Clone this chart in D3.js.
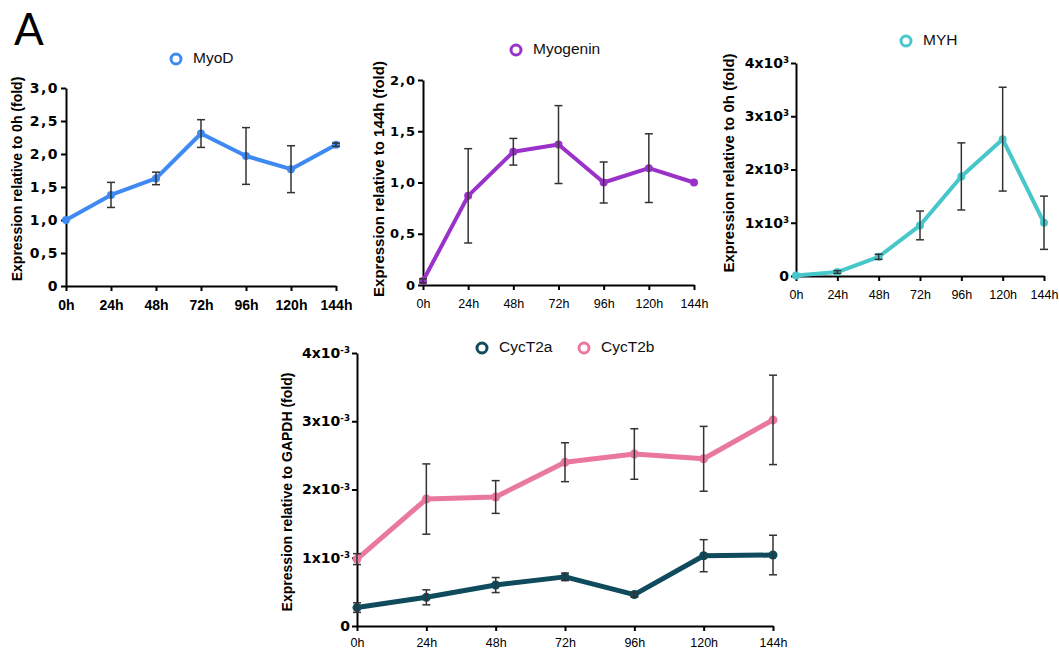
<!DOCTYPE html>
<html>
<head>
<meta charset="UTF-8">
<script src="https://d3js.org/d3.v7.min.js"></script>
<style>
    body { margin: 0; background: #fff; }
    svg { display: block; }
    .ylab { font-family: 'Liberation Sans', Arial, sans-serif; font-weight: bold; fill: #000; }
    .legend text { font-family: 'Liberation Sans', Arial, sans-serif; font-size: 15.5px; fill: #111; }
</style>
</head>
<body>
<script>
// time points shared by all panels
var timePoints = ["0h", "24h", "48h", "72h", "96h", "120h", "144h"];

// MyoD, fold vs 0h
var myodMean = [1.00, 1.38, 1.63, 2.31, 1.97, 1.77, 2.14];
var myodSd   = [0.00, 0.19, 0.095, 0.21, 0.43, 0.355, 0.025];
var myodTicks = [0, 0.5, 1, 1.5, 2, 2.5, 3];

// Myogenin, fold vs 144h
var myogeninMean = [0.04, 0.87, 1.30, 1.37, 1.00, 1.14, 1.00];
var myogeninSd   = [0.02, 0.46, 0.13, 0.38, 0.20, 0.335, 0.00];
var myogeninTicks = [0, 0.5, 1, 1.5, 2];

// MYH, fold vs 0h
var myhMean = [10, 75, 360, 950, 1870, 2570, 1000];
var myhSd   = [0, 25, 48, 270, 630, 975, 500];
var myhTicks = [0, 1000, 2000, 3000, 4000];

// CycT2a / CycT2b relative to GAPDH
var cycT2aMean = [0.27e-3, 0.42e-3, 0.60e-3, 0.72e-3, 0.46e-3, 1.03e-3, 1.04e-3];
var cycT2aSd   = [0.07e-3, 0.11e-3, 0.11e-3, 0.055e-3, 0.035e-3, 0.235e-3, 0.29e-3];
var cycT2bMean = [0.98e-3, 1.86e-3, 1.89e-3, 2.40e-3, 2.52e-3, 2.45e-3, 3.02e-3];
var cycT2bSd   = [0.08e-3, 0.515e-3, 0.24e-3, 0.285e-3, 0.37e-3, 0.475e-3, 0.655e-3];
var cycTicks = [0, 1e-3, 2e-3, 3e-3, 4e-3];

var svg = d3.select("body").append("svg")
    .attr("width", 1059)
    .attr("height", 652);

svg.append("text")
    .attr("x", 14).attr("y", 45)
    .style("font-family", "Lato, 'Open Sans', sans-serif")
    .style("font-size", "44px")
    .text("A");

function commaFmt(d) {
    return d === 0 ? ["0"] : [d3.format(".1f")(d).replace(".", ",")];
}

function drawPanel(o) {
    var x = d3.scalePoint().domain(timePoints).range([o.left, o.right]);
    var y = d3.scaleLinear().domain([o.ticks[0], o.ticks[o.ticks.length - 1]]).range([o.bottom, o.top]);
    var g = svg.append("g");

    // axes
    var xAxis = g.append("g")
        .attr("transform", "translate(0," + o.bottom + ")")
        .call(d3.axisBottom(x).tickSizeInner(5).tickSizeOuter(0).tickPadding(o.xPad));
    xAxis.selectAll("text")
        .style("font-family", "'Liberation Sans', Arial, sans-serif")
        .style("font-size", o.xFont)
        .style("font-weight", o.xBold ? "bold" : "normal")
        .attr("fill", "#000");

    var yAxis = g.append("g")
        .attr("transform", "translate(" + o.left + ",0)")
        .call(d3.axisLeft(y).tickValues(o.ticks).tickSizeInner(5).tickSizeOuter(0).tickPadding(2));
    yAxis.selectAll("text")
        .style("font-family", "'DejaVu Sans', sans-serif")
        .style("font-size", o.yFont)
        .style("font-weight", "bold")
        .style("letter-spacing", o.ySpacing || "0px")
        .attr("fill", "#000")
        .each(function (d) {
            var t = d3.select(this);
            var f = o.fmt(d);
            t.text(null);
            t.append("tspan").text(f[0]);
            if (f[1]) {
                t.append("tspan").attr("dy", "-0.55em").style("font-size", "0.62em").text(f[1]);
            }
        });

    [xAxis, yAxis].forEach(function (a) {
        a.selectAll("path, line").attr("stroke", "#000").attr("stroke-width", 2);
    });

    // y label
    g.append("text")
        .attr("class", "ylab")
        .attr("transform", "translate(" + o.yLabX + "," + o.yLabY + ") rotate(-90)")
        .attr("text-anchor", "middle")
        .attr("dominant-baseline", "middle")
        .style("font-size", o.yLabFont)
        .text(o.yLabel);

    // series
    o.series.forEach(function (s) {
        var pts = timePoints.map(function (t, i) { return { t: t, m: s.mean[i], sd: s.sd[i] }; });
        var line = d3.line().x(function (d) { return x(d.t); }).y(function (d) { return y(d.m); });

        g.append("path")
            .datum(pts)
            .attr("d", line)
            .attr("fill", "none")
            .attr("stroke", s.color)
            .attr("stroke-width", o.lineW)
            .attr("stroke-linejoin", "round");

        g.selectAll(null).data(pts).enter().append("circle")
            .attr("cx", function (d) { return x(d.t); })
            .attr("cy", function (d) { return y(d.m); })
            .attr("r", o.dotR)
            .attr("fill", s.color);

        var eb = g.selectAll(null).data(pts.filter(function (d) { return d.sd > 0; })).enter().append("g")
            .attr("stroke", "#333").attr("stroke-width", 1.5);
        eb.append("line")
            .attr("x1", function (d) { return x(d.t); }).attr("x2", function (d) { return x(d.t); })
            .attr("y1", function (d) { return y(d.m - d.sd); }).attr("y2", function (d) { return y(d.m + d.sd); });
        [-1, 1].forEach(function (k) {
            eb.append("line")
                .attr("x1", function (d) { return x(d.t) - 4; }).attr("x2", function (d) { return x(d.t) + 4; })
                .attr("y1", function (d) { return y(d.m + k * d.sd); }).attr("y2", function (d) { return y(d.m + k * d.sd); });
        });
    });

    // legend
    var lg = g.append("g").attr("class", "legend");
    o.series.forEach(function (s, i) {
        var lx = o.legX[i];
        lg.append("circle")
            .attr("cx", lx).attr("cy", o.legY).attr("r", 5)
            .attr("fill", "#fff").attr("stroke", s.color).attr("stroke-width", 3);
        lg.append("text")
            .attr("x", lx + 17).attr("y", o.legY)
            .attr("dominant-baseline", "middle")
            .text(s.name);
    });
}

drawPanel({
    left: 66, right: 336, top: 88, bottom: 286,
    ticks: myodTicks, fmt: commaFmt, yFont: "14px", ySpacing: "1.5px",
    xFont: "14px", xBold: true, xPad: 9,
    yLabel: "Expression relative to 0h (fold)", yLabX: 18, yLabY: 179, yLabFont: "14px",
    lineW: 4, dotR: 4, legX: [176], legY: 59,
    series: [{ name: "MyoD", mean: myodMean, sd: myodSd, color: "#3f8af2" }]
});

drawPanel({
    left: 423, right: 694, top: 80, bottom: 285,
    ticks: myogeninTicks, fmt: commaFmt, yFont: "13px", ySpacing: "1px",
    xFont: "12.5px", xBold: false, xPad: 9,
    yLabel: "Expression relative to 144h (fold)", yLabX: 380, yLabY: 179, yLabFont: "15px",
    lineW: 4, dotR: 4, legX: [516], legY: 50,
    series: [{ name: "Myogenin", mean: myogeninMean, sd: myogeninSd, color: "#9a32c9" }]
});

drawPanel({
    left: 796, right: 1044, top: 63, bottom: 276,
    ticks: myhTicks, fmt: function (d) { return d === 0 ? ["0"] : [d / 1000 + "x10", "3"]; },
    yFont: "14px",
    xFont: "12.5px", xBold: false, xPad: 9,
    yLabel: "Expression relative to 0h (fold)", yLabX: 730, yLabY: 163, yLabFont: "15px",
    lineW: 4, dotR: 4, legX: [906], legY: 41,
    series: [{ name: "MYH", mean: myhMean, sd: myhSd, color: "#48c7cb" }]
});

drawPanel({
    left: 357, right: 773, top: 353, bottom: 626,
    ticks: cycTicks, fmt: function (d) { return d === 0 ? ["0"] : [Math.round(d * 1000) + "x10", "-3"]; },
    yFont: "14px",
    xFont: "12.5px", xBold: false, xPad: 7,
    yLabel: "Expression relative to GAPDH (fold)", yLabX: 288, yLabY: 492, yLabFont: "14px",
    lineW: 5, dotR: 4.5, legX: [482, 584], legY: 348,
    series: [
        { name: "CycT2a", mean: cycT2aMean, sd: cycT2aSd, color: "#0f4b5c" },
        { name: "CycT2b", mean: cycT2bMean, sd: cycT2bSd, color: "#e9779f" }
    ]
});
</script>
</body>
</html>
